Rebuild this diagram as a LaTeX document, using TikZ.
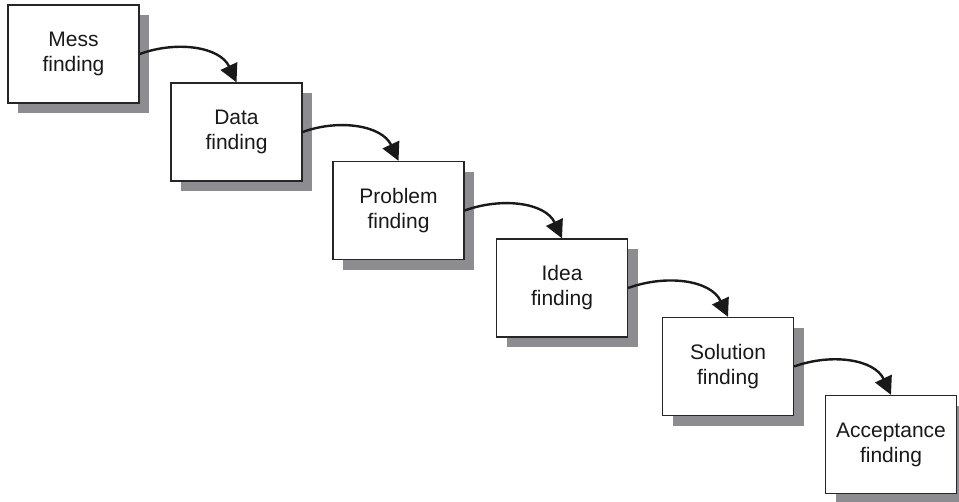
\documentclass[tikz,border=0pt]{standalone}
\usepackage{fontspec}
\setmainfont{Liberation Sans}
\usetikzlibrary{arrows.meta,shadows}
\definecolor{shadowgray}{RGB}{141,141,145}
\tikzset{
  stagebox/.style={draw=black!85, line width=1.3pt, fill=white, rectangle,
    minimum width=131pt, minimum height=98pt, inner sep=0pt, align=center,
    font=\fontsize{21}{25}\selectfont, text=black!90,
    drop shadow={shadow xshift=10pt, shadow yshift=-10pt, fill=shadowgray, opacity=1}},
  flow/.style={line width=2.4pt, draw=black!90, -{Triangle[length=18pt,width=18pt]}}
}
\newcommand{\stage}[4]{\node[stagebox] (#1) at ( #2 , #3 ) {#4};}
\begin{document}
\begin{tikzpicture}[x=1pt,y=-1pt]
        \useasboundingbox (0,0) rectangle (959,501);
        % boxes
        \stage{mess}{73.5}{54}{Mess\\finding}
        \stage{data}{236.5}{132}{Data\\finding}
        \stage{problem}{398.5}{210.5}{Problem\\finding}
        \stage{idea}{562}{288}{Idea\\finding}
        \stage{solution}{728}{366.5}{Solution\\finding}
        \stage{acceptance}{891}{444.5}{Acceptance\\finding}

        % arrows
        \draw[flow] (mess.east) to[out=20,in=115] (data.north);
        \draw[flow] (data.east) to[out=20,in=115] (problem.north);
        \draw[flow] (problem.east) to[out=20,in=115] (idea.north);
        \draw[flow] (idea.east) to[out=20,in=115] (solution.north);
        \draw[flow] (solution.east) to[out=20,in=115] (acceptance.north);
    \end{tikzpicture}
\end{document}
